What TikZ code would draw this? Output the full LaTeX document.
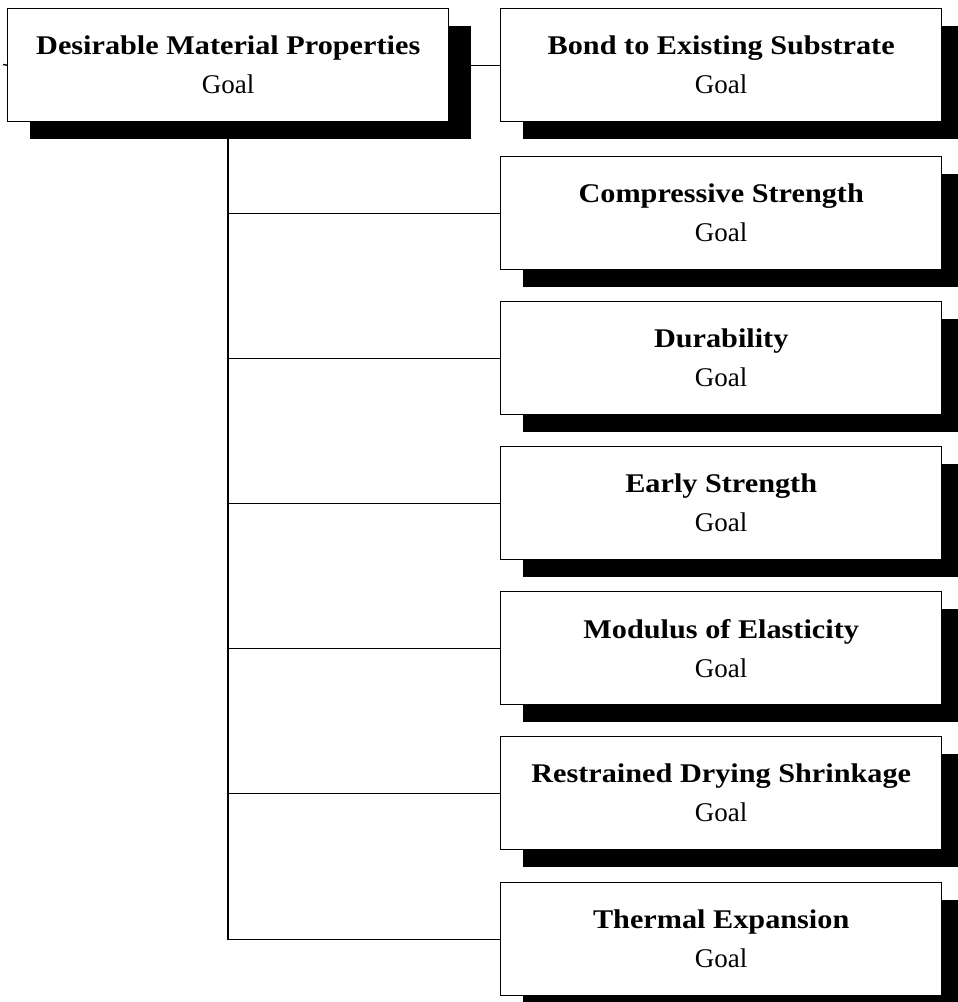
\documentclass[tikz,border=0pt]{standalone}
\usepackage{fontspec}
\setmainfont{Liberation Serif}[BoldFeatures={FakeStretch=1.12}]
\usetikzlibrary{shadows}
\begin{document}
\begin{tikzpicture}[x=1pt,y=-1pt]
\tikzset{
  goalbox/.style={draw=black, line width=1.4pt, fill=white, anchor=north west,
    minimum width=441pt, minimum height=113pt, align=center, inner sep=0pt,
    font=\fontsize{27}{39}\selectfont,
    general shadow={fill=black, shadow xshift=22pt, shadow yshift=-17pt}},
  link/.style={draw=black, line width=1.4pt}
}
\useasboundingbox (0,0) rectangle (958,1002);
\node[goalbox] (root) at (7,8) {\textbf{Desirable Material Properties}\\Goal};
\node[goalbox] (bond) at (500,8) {\textbf{Bond to Existing Substrate}\\Goal};
\node[goalbox] (comp) at (500,156) {\textbf{Compressive Strength}\\Goal};
\node[goalbox] (dura) at (500,301) {\textbf{Durability}\\Goal};
\node[goalbox] (early) at (500,446) {\textbf{Early Strength}\\Goal};
\node[goalbox] (modu) at (500,591) {\textbf{Modulus of Elasticity}\\Goal};
\node[goalbox] (restr) at (500,736) {\textbf{Restrained Drying Shrinkage}\\Goal};
\node[goalbox] (therm) at (500,882) {\textbf{Thermal Expansion}\\Goal};
\coordinate (stub) at (3,64.5);
\coordinate (t0) at (228,139);
\draw[link] (stub) -- (root.west);
\draw[link] (root.east) -- (bond.west);
\foreach \n in {comp,dura,early,modu,restr,therm}
  \draw[link] (t0) |- (\n.west);
\end{tikzpicture}
\end{document}
